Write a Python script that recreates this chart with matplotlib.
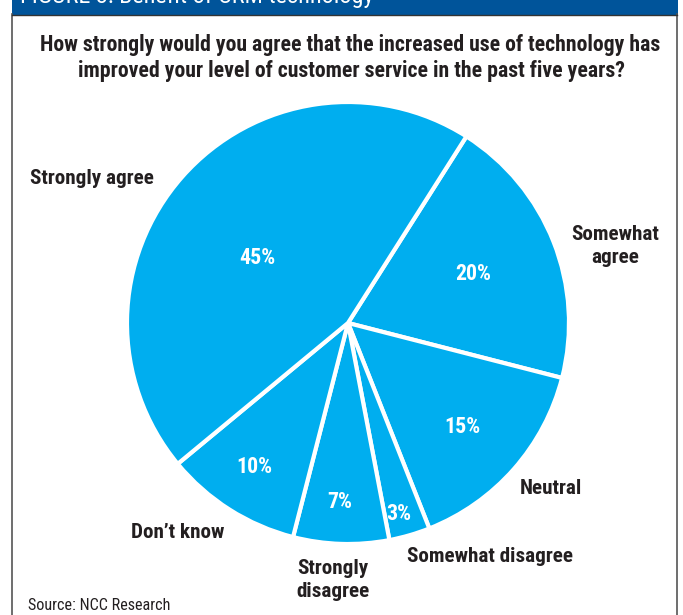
import matplotlib.pyplot as plt
import matplotlib.patches as patches
from matplotlib import font_manager

# survey answers, clockwise from the upper-right boundary
categories = ["Somewhat agree", "Neutral", "Somewhat disagree",
              "Strongly disagree", "Don't know", "Strongly agree"]
shares = [20, 15, 3, 7, 10, 45]
pct_labels = ["20%", "15%", "3%", "7%", "10%", "45%"]

names = {f.name for f in font_manager.fontManager.ttflist}
FONT = "DejaVu Sans"
for cand in ["Liberation Sans Narrow", "Roboto Condensed", "Open Sans Condensed"]:
    if cand in names:
        FONT = cand
        break
plt.rcParams['font.family'] = [FONT, "DejaVu Sans"]
plt.rcParams['font.stretch'] = 'condensed'

W, H = 683, 615
fig = plt.figure(figsize=(W / 100, H / 100), dpi=100)
ax = fig.add_axes([0, 0, 1, 1])
ax.set_xlim(0, W)
ax.set_ylim(0, H)
ax.axis('off')
renderer = fig.canvas.get_renderer()


def py(y):
    # convert pixel row (from top) to data y
    return H - y


def fit_size(s, width, weight='bold', start=14):
    t = ax.text(0, 0, s, fontsize=start, fontweight=weight)
    w = t.get_window_extent(renderer).width
    t.remove()
    return start * width / w


# frame and header bar
ax.plot([12, 12], [py(14), 0], color="#555555", lw=1.2)
ax.plot([677, 677], [py(14), 0], color="#555555", lw=1.2)
ax.add_patch(patches.Rectangle((12, py(15)), 666, 15, fc="#00549a", ec="none"))
ax.plot([12, 677], [py(15), py(15)], color="#333333", lw=1)
hdr_fs = fit_size("FIGURE 3: Benefit of CRM technology", 355, weight='normal')
ax.text(20, py(-3), "FIGURE 3: Benefit of CRM technology", color="white",
        fontsize=hdr_fs, ha='left', va='center')

# pie
cx, cy, r = 348, py(323), 221
ax.pie(shares, center=(cx, cy), radius=r, startangle=57.6, counterclock=False,
       colors=["#00aeef"] * len(shares),
       wedgeprops=dict(edgecolor="white", linewidth=3))
ax.set_xlim(0, W)
ax.set_ylim(0, H)
ax.set_aspect('equal')

# percentage labels
pct_fs = fit_size("45%", 36)
pct_pos = [(473, 274), (462, 427), (399, 514), (340, 502), (254, 467), (257, 258)]
for (x, y), t in zip(pct_pos, pct_labels):
    ax.text(x, py(y), t, color="white", fontsize=pct_fs, fontweight='bold',
            ha='center', va='center')

# category labels
lab_fs = fit_size("Strongly agree", 125)
lab_kw = dict(color="#231f20", fontsize=lab_fs, fontweight='bold', va='center', linespacing=1.25)
ax.text(30, py(178), "Strongly agree", ha='left', **lab_kw)
ax.text(615, py(246), "Somewhat\nagree", ha='center', multialignment='center', **lab_kw)
ax.text(551, py(488), "Neutral", ha='center', **lab_kw)
ax.text(490, py(557), "Somewhat disagree", ha='center', **lab_kw)
ax.text(333, py(580), "Strongly\ndisagree", ha='center', **lab_kw)
ax.text(178, py(532), "Don\u2019t know", ha='center', **lab_kw)

# title and source
title_fs = fit_size("How strongly would you agree that the increased use of technology has", 623)
ax.text(350, py(45), "How strongly would you agree that the increased use of technology has",
        ha='center', va='center', fontsize=title_fs, fontweight='bold', color="#231f20")
ax.text(352, py(71), "improved your level of customer service in the past five years?",
        ha='center', va='center', fontsize=title_fs, fontweight='bold', color="#231f20")
src_fs = fit_size("Source: NCC Research", 144, weight='normal')
ax.text(28, py(605), "Source: NCC Research", ha='left', va='center', fontsize=src_fs,
        color="#231f20")

fig.savefig("out.png", dpi=100)
